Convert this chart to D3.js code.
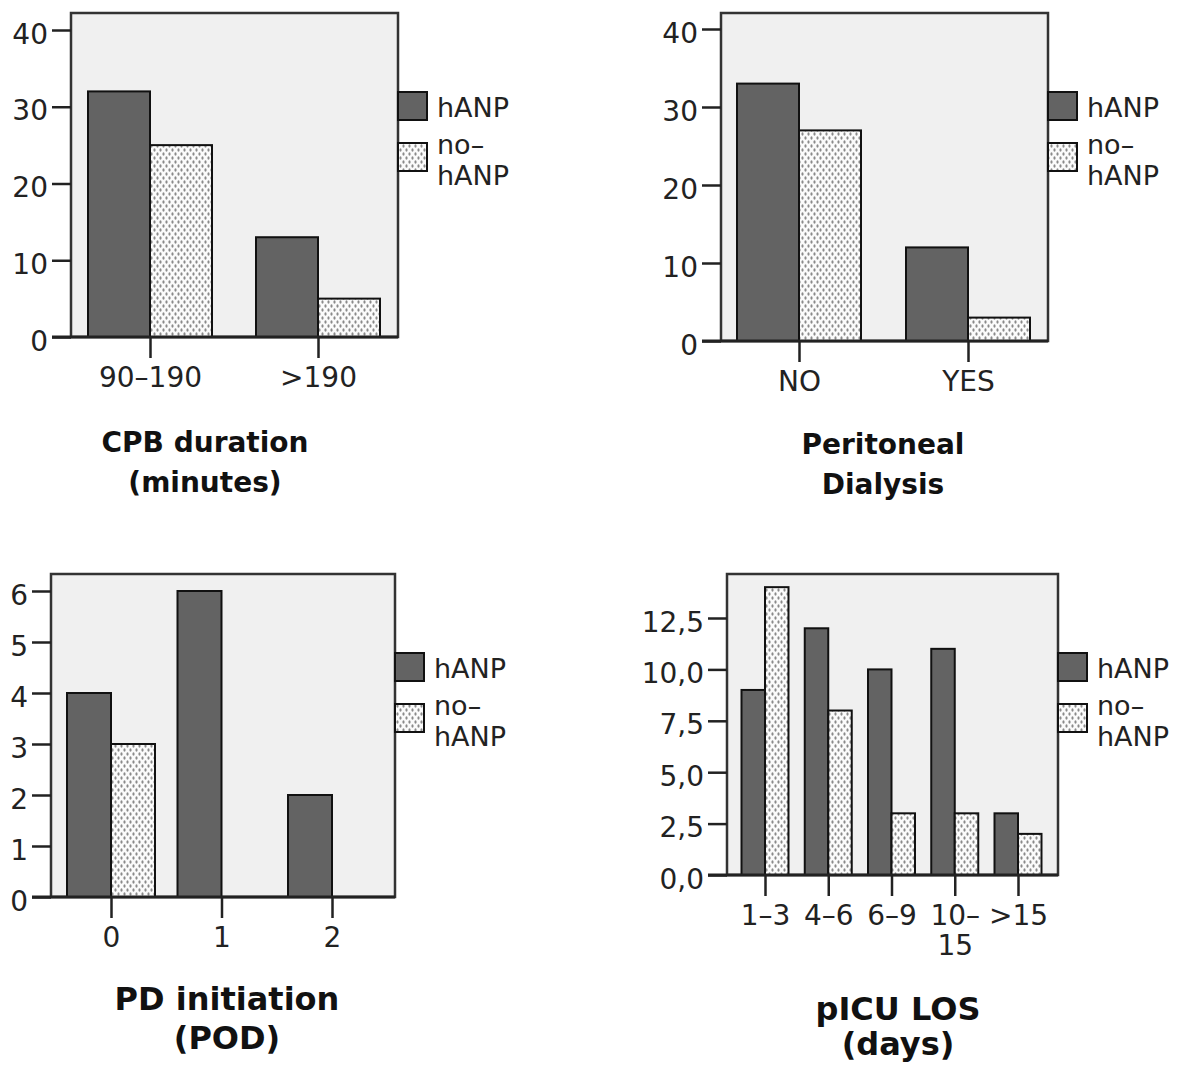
<!DOCTYPE html>
<html lang="en">
<head>
<meta charset="UTF-8">
<script src="https://d3js.org/d3.v7.min.js"></script>
<title>hANP vs no-hANP</title>
<style>
    body { margin: 0; background: #fff; }
    text { font-family: 'DejaVu Sans', sans-serif; fill: #222; }
    .tick text { font-size: 28px; }
    .legend text { font-size: 27px; }
    .title { font-weight: bold; text-anchor: middle; fill: #111; }
</style>
</head>
<body>
<script>
    const width = 1185, height = 1066;

    const seriesNames = ["hANP", "no–hANP"];

    // CPB duration (minutes)
    const cpbCategories = ["90–190", ">190"];
    const cpbHanp = [32, 13];
    const cpbNoHanp = [25, 5];
    const cpbTicks = [0, 10, 20, 30, 40];
    const cpbTitle = ["CPB duration", "(minutes)"];

    // Peritoneal dialysis
    const pdCategories = ["NO", "YES"];
    const pdHanp = [33, 12];
    const pdNoHanp = [27, 3];
    const pdTicks = [0, 10, 20, 30, 40];
    const pdTitle = ["Peritoneal", "Dialysis"];

    // PD initiation (POD)
    const podCategories = ["0", "1", "2"];
    const podHanp = [4, 6, 2];
    const podNoHanp = [3, 0, 0];
    const podTicks = [0, 1, 2, 3, 4, 5, 6];
    const podTitle = ["PD initiation", "(POD)"];

    // pICU LOS (days)
    const losCategories = ["1–3", "4–6", "6–9", "10–15", ">15"];
    const losHanp = [9, 12, 10, 11, 3];
    const losNoHanp = [14, 8, 3, 3, 2];
    const losTicks = [0, 2.5, 5, 7.5, 10, 12.5];
    const losTitle = ["pICU LOS", "(days)"];

    const comma = d3.formatLocale({decimal: ",", thousands: ".", grouping: [3], currency: ["", ""]});

    // layout of the four panels
    const panels = [
        {cats: cpbCategories, hanp: cpbHanp, nohanp: cpbNoHanp, ticks: cpbTicks, title: cpbTitle,
         fmt: d3.format("d"), left: 71, right: 398, top: 13, base: 337, yTop: 30,
         x0: 150, x1: 318, bw: 62, titleX: 205, titleY: 452, titleSize: 28, lineGap: 40},
        {cats: pdCategories, hanp: pdHanp, nohanp: pdNoHanp, ticks: pdTicks, title: pdTitle,
         fmt: d3.format("d"), left: 721, right: 1048, top: 13, base: 341, yTop: 29,
         x0: 799, x1: 968, bw: 62, titleX: 883, titleY: 454, titleSize: 28, lineGap: 40},
        {cats: podCategories, hanp: podHanp, nohanp: podNoHanp, ticks: podTicks, title: podTitle,
         fmt: d3.format("d"), left: 51, right: 395, top: 574, base: 897, yTop: 591,
         x0: 111, x1: 332, bw: 44, titleX: 227, titleY: 1010, titleSize: 32, lineGap: 39},
        {cats: losCategories, hanp: losHanp, nohanp: losNoHanp, ticks: losTicks, title: losTitle,
         fmt: comma.format(".1f"), left: 727, right: 1058, top: 574, base: 875, yTop: 618,
         x0: 765, x1: 1018, bw: 23.5, titleX: 898, titleY: 1020, titleSize: 32, lineGap: 35, wrap: true}
    ];

    const svg = d3.select("body").append("svg")
            .attr("width", width).attr("height", height);

    const defs = svg.append("defs");
    const pat = defs.append("pattern")
            .attr("id", "dots")
            .attr("patternUnits", "userSpaceOnUse")
            .attr("width", 6).attr("height", 8);
    pat.append("rect").attr("width", 6).attr("height", 8).attr("fill", "#fbfbfb");
    pat.append("ellipse").attr("cx", 1.5).attr("cy", 2).attr("rx", 1.1).attr("ry", 1.8).attr("fill", "#8a8a8a");
    pat.append("ellipse").attr("cx", 4.5).attr("cy", 6).attr("rx", 1.1).attr("ry", 1.8).attr("fill", "#8a8a8a");

    const darkFill = "#636363";

    panels.forEach(p => {
        const g = svg.append("g");
        const yMax = p.ticks[p.ticks.length - 1];
        const y = d3.scaleLinear().domain([0, yMax]).range([p.base, p.yTop]);
        const x = d3.scalePoint().domain(p.cats).range([p.x0, p.x1]);

        // plot frame
        g.append("rect")
                .attr("x", p.left).attr("y", p.top)
                .attr("width", p.right - p.left).attr("height", p.base - p.top)
                .attr("fill", "#f0f0f0").attr("stroke", "#333").attr("stroke-width", 2.5);

        // bars
        const rows = p.cats.map((c, i) => ({cat: c, hanp: p.hanp[i], nohanp: p.nohanp[i]}));
        g.selectAll(".bar-h").data(rows.filter(d => d.hanp > 0)).join("rect")
                .attr("x", d => x(d.cat) - p.bw).attr("y", d => y(d.hanp))
                .attr("width", p.bw).attr("height", d => p.base - y(d.hanp))
                .attr("fill", darkFill).attr("stroke", "#111").attr("stroke-width", 2);
        g.selectAll(".bar-n").data(rows.filter(d => d.nohanp > 0)).join("rect")
                .attr("x", d => x(d.cat)).attr("y", d => y(d.nohanp))
                .attr("width", p.bw).attr("height", d => p.base - y(d.nohanp))
                .attr("fill", "url(#dots)").attr("stroke", "#111").attr("stroke-width", 2);

        // y axis
        g.append("g")
                .attr("transform", `translate(${p.left},0)`)
                .call(d3.axisLeft(y).tickValues(p.ticks).tickSize(19).tickPadding(4).tickFormat(p.fmt))
                .call(a => a.select(".domain").remove())
                .call(a => a.selectAll(".tick line").attr("stroke", "#222").attr("stroke-width", 2.5))
                .call(a => a.selectAll(".tick text").attr("dy", "0.47em"));

        // x axis
        const xa = g.append("g")
                .attr("transform", `translate(0,${p.base})`)
                .call(d3.axisBottom(x).tickSize(21).tickPadding(9))
                .call(a => a.select(".domain").remove())
                .call(a => a.selectAll(".tick line").attr("stroke", "#222").attr("stroke-width", 2.5));

        if (p.wrap) {
            xa.selectAll(".tick text").each(function(d) {
                if (d.length > 4 && d.indexOf("–") > 0) {
                    const parts = d.split("–");
                    const t = d3.select(this).text(null);
                    t.append("tspan").attr("x", 0).attr("dy", "0.71em").text(parts[0] + "–");
                    t.append("tspan").attr("x", 0).attr("dy", 30).text(parts[1]);
                    t.attr("dy", null);
                }
            });
        }

        // baseline
        g.append("line")
                .attr("x1", p.left - 19).attr("x2", p.right)
                .attr("y1", p.base).attr("y2", p.base)
                .attr("stroke", "#222").attr("stroke-width", 3);

        // legend
        const lg = g.append("g").attr("class", "legend");
        const ly1 = p.top + 79, ly2 = p.top + 130;
        lg.append("rect").attr("x", p.right).attr("y", ly1).attr("width", 29).attr("height", 28)
                .attr("fill", darkFill).attr("stroke", "#111").attr("stroke-width", 2);
        lg.append("rect").attr("x", p.right).attr("y", ly2).attr("width", 29).attr("height", 28)
                .attr("fill", "url(#dots)").attr("stroke", "#111").attr("stroke-width", 2);
        lg.append("text").attr("x", p.right + 39).attr("y", ly1 + 25).text(seriesNames[0]);
        const n2 = seriesNames[1].split("–");
        lg.append("text").attr("x", p.right + 39).attr("y", ly2 + 11).text(n2[0] + "–");
        lg.append("text").attr("x", p.right + 39).attr("y", ly2 + 42).text(n2[1]);

        // title
        p.title.forEach((line, i) => {
            g.append("text").attr("class", "title")
                    .attr("x", p.titleX).attr("y", p.titleY + i * p.lineGap)
                    .attr("font-size", p.titleSize)
                    .text(line);
        });
    });
</script>
</body>
</html>
